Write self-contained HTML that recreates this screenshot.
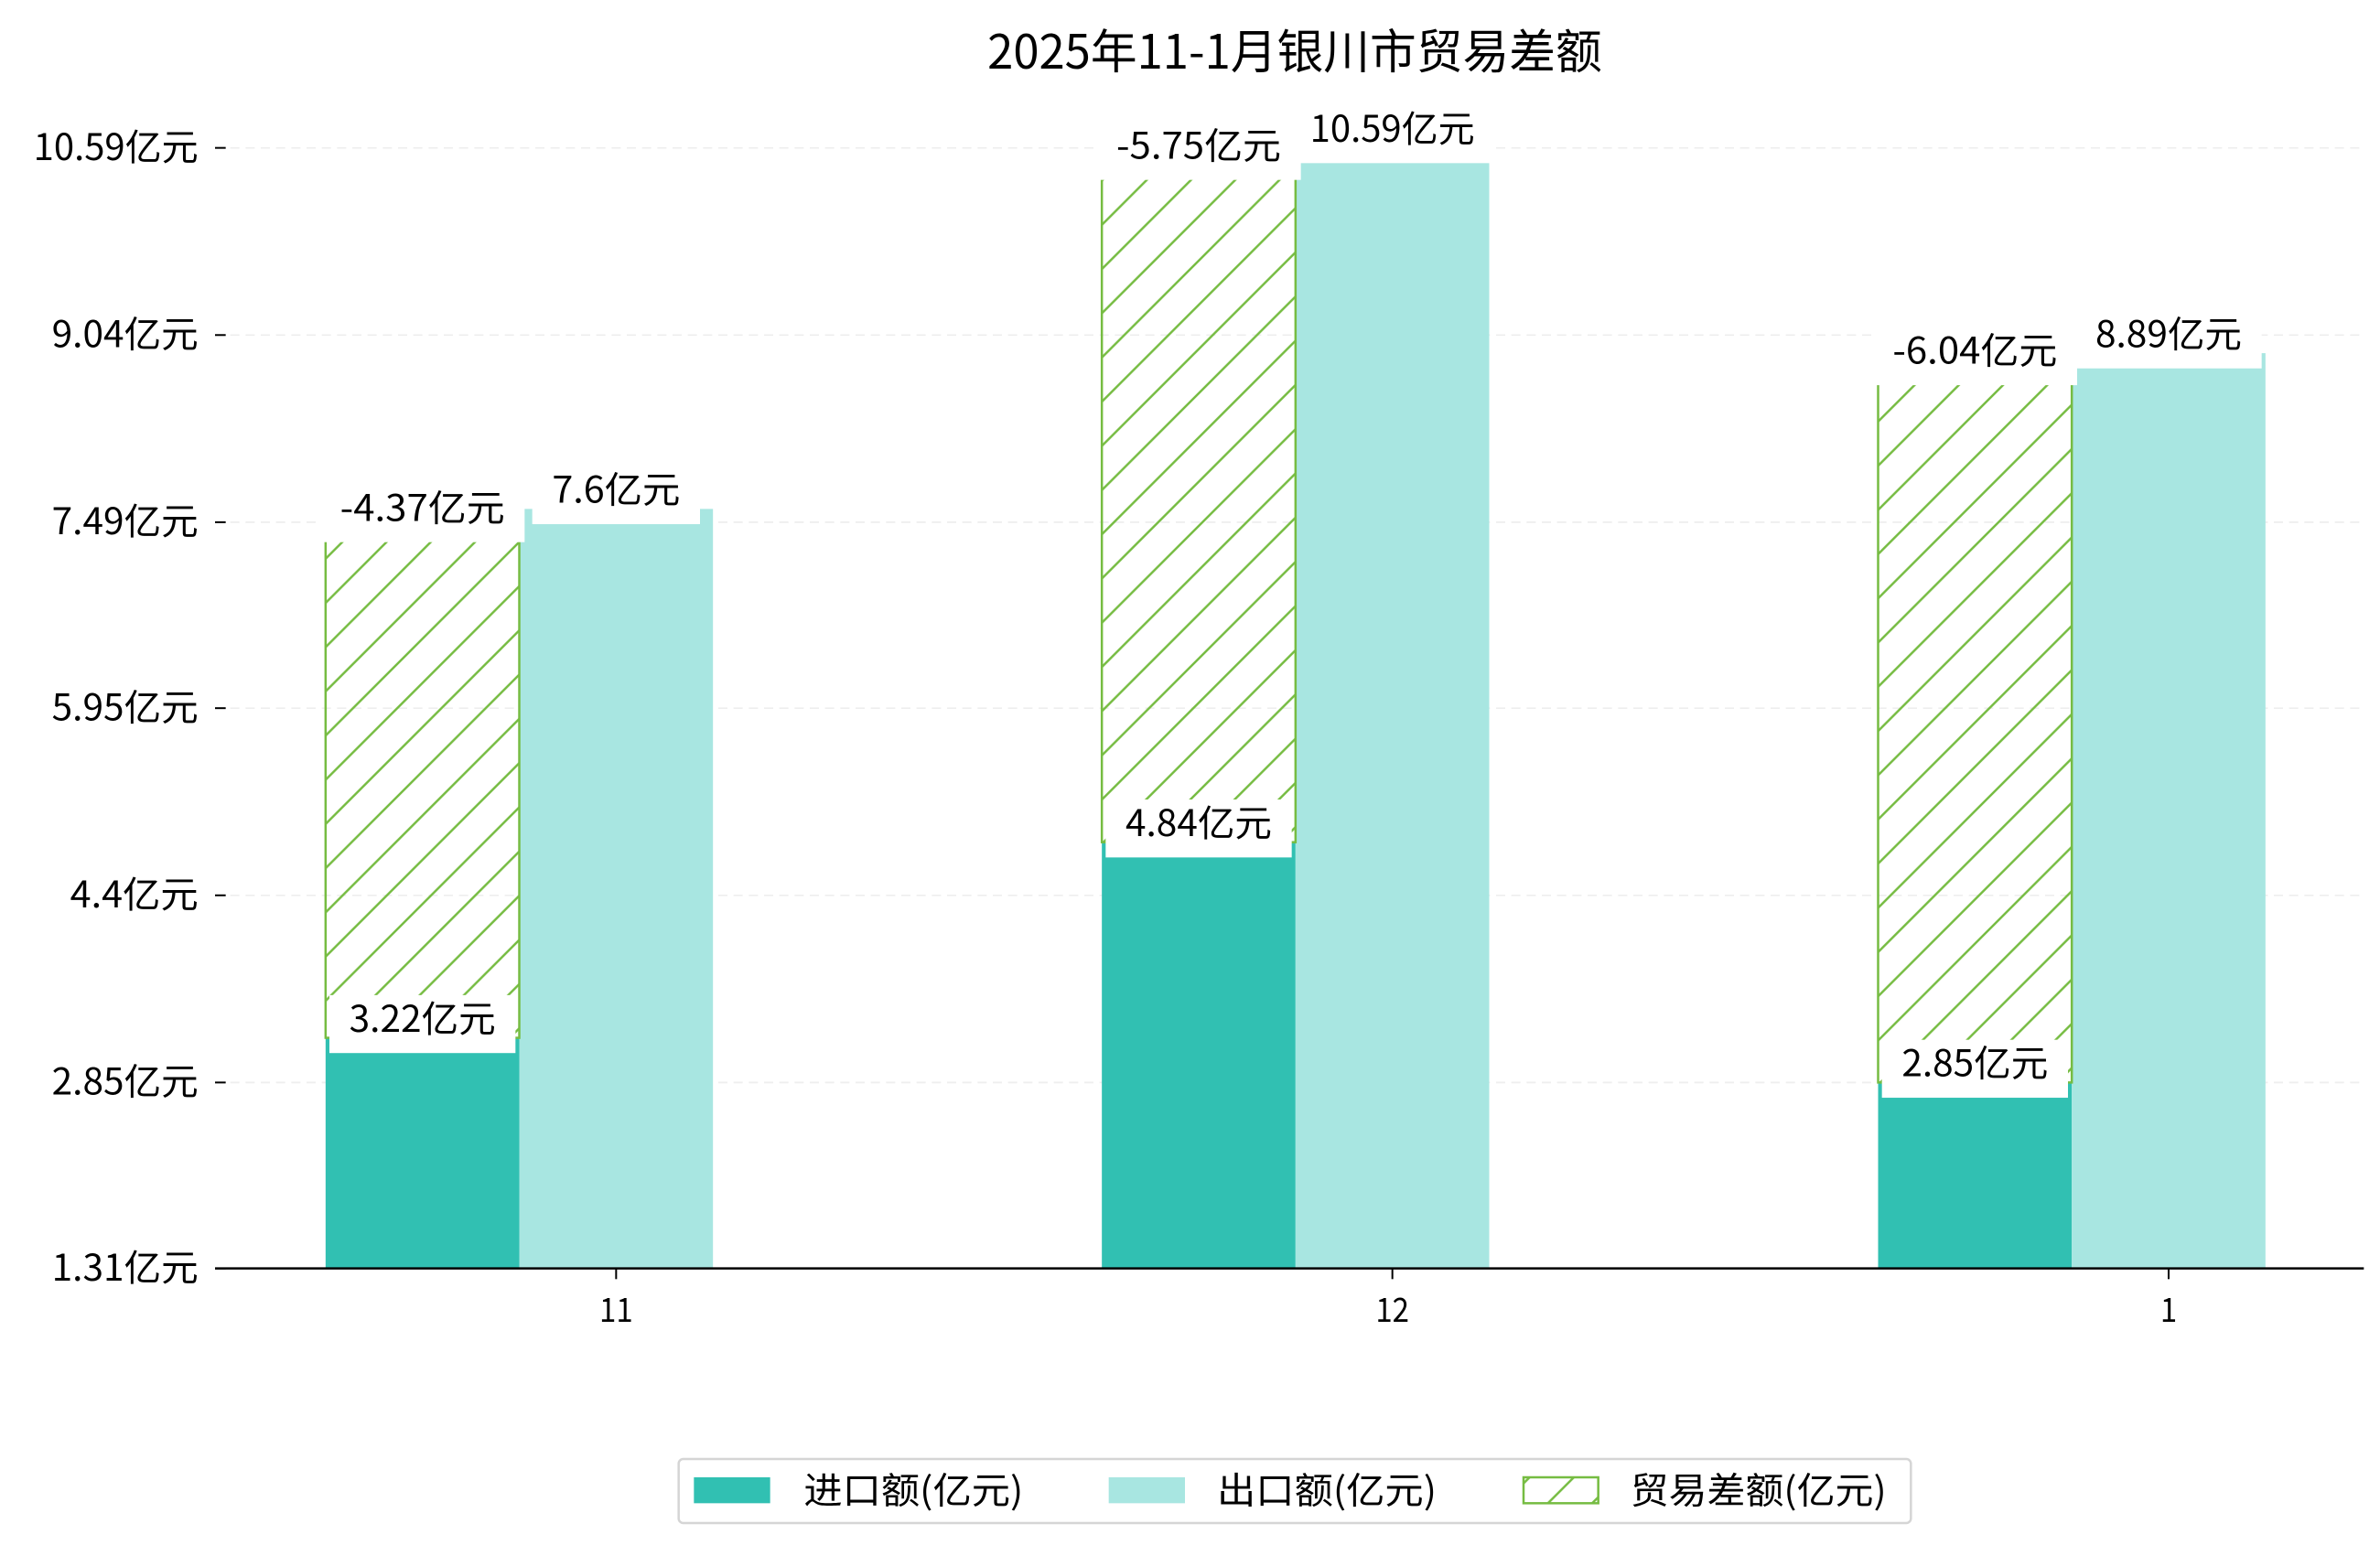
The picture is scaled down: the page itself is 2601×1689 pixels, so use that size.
<!DOCTYPE html>
<html><head><meta charset="utf-8"><style>
html,body{margin:0;padding:0;background:#fff;}
svg{display:block;}
text{font-family:"WenQuanYi Zen Hei","Noto Sans CJK SC",sans-serif;fill:#000;}
</style></head><body>
<svg id="chart" width="2601" height="1689" viewBox="0 0 1560.6 1013.4" xmlns="http://www.w3.org/2000/svg">
<defs>
<pattern id="hatch" patternUnits="userSpaceOnUse" width="29" height="29">
<path d="M0,29 L29,0 M-5,5 L5,-5 M24,34 L34,24" stroke="#76BC42" stroke-width="1.5"/>
</pattern>
</defs>
<g id="title"></g>
<g id="grid"></g>
<g id="bars"></g>
<g id="labels"></g>
<g id="axes"></g>
<g id="legend">
<rect x="445" y="957" width="808" height="42" rx="3" fill="#fff" stroke="#d5d5d5" stroke-width="1.5"/>
<rect x="455" y="969" width="50" height="17" fill="#31C0B2"/>
<rect x="727" y="969" width="50" height="17" fill="#A8E6E1"/>
<rect x="999" y="969" width="49" height="17" fill="url(#hatch)" stroke="#76BC42" stroke-width="1.5"/>
</g>
</svg>
<script>
const months = ["11", "12", "1"];
const imports = [3.22, 4.84, 2.85];
const exports_ = [7.6, 10.59, 8.89];
const diffs = [-4.37, -5.75, -6.04];
const yTicks = ["1.31", "2.85", "4.4", "5.95", "7.49", "9.04", "10.59"];

const NS = "http://www.w3.org/2000/svg";
const yMin = 1.31, yMax = 10.59;
const plotL = 141, plotR = 1550, plotB = 832, plotT = 97;
function y(v){ return plotB - (v - yMin) / (yMax - yMin) * (plotB - plotT); }
function xc(i){ return 404 + i * 509; }
const bw = 127;
function el(tag, attrs, parent){ const e = document.createElementNS(NS, tag); for (const k in attrs) e.setAttribute(k, attrs[k]); parent.appendChild(e); return e; }
function tw(s, fs){ let w = 0; for (const ch of s) w += ch.charCodeAt(0) < 256 ? 0.5 : 1; return w * fs; }
function txt(s, x, yb, fs, anchor, parent){
  const t = el("text", {x: x, y: yb, "font-size": fs, "text-anchor": anchor, textLength: tw(s, fs).toFixed(1), lengthAdjust: "spacingAndGlyphs"}, parent);
  t.textContent = s;
  return t;
}
const grid = document.getElementById("grid"), bars = document.getElementById("bars"), labels = document.getElementById("labels"), axes = document.getElementById("axes");

const title = txt("2025年11-1月银川市贸易差额", 849, 45, 31, "middle", document.getElementById("title"));



const lg = document.getElementById("legend");
const l1 = txt("进口额(亿元)", 527, 986, 24, "start", lg);


const l2 = txt("出口额(亿元)", 798, 986, 24, "start", lg);


const l3 = txt("贸易差额(亿元)", 1069, 986, 24, "start", lg);



yTicks.forEach((t, i) => {
  const v = parseFloat(t), yy = y(v);
  if (i > 0) {
    const g = el("line", {x1: plotL, x2: plotR, y1: yy, y2: yy, stroke: "#eeeeee", "stroke-width": 1, "stroke-dasharray": "6,4"}, grid);
    
    
  }
  const tk = el("line", {x1: plotL, x2: plotL + 7, y1: yy, y2: yy, stroke: "#000", "stroke-width": 1.2}, axes);
  
  
  const tl = txt(t + "亿元", 130, yy + 8, 24, "end", axes);
  
  
});
const ax = el("line", {x1: plotL, x2: plotR, y1: plotB, y2: plotB, stroke: "#000", "stroke-width": 1.5}, axes);



function label(s, cx, cy, name){
  const w = tw(s, 24) + 26;
  const r = el("rect", {x: cx - w/2, y: cy - 16, width: w, height: 38, fill: "#fff"}, labels);
  
  
  const t = txt(s, cx, cy + 8, 24, "middle", labels);
  
  
}

months.forEach((m, i) => {
  const c = xc(i);
  const xi = c - 1.5 * bw, xe = c - 0.5 * bw;
  const bi = el("rect", {x: xi, y: y(imports[i]), width: bw, height: plotB - y(imports[i]), fill: "#31C0B2"}, bars);
  
  
  const be = el("rect", {x: xe, y: y(exports_[i]), width: bw, height: plotB - y(exports_[i]), fill: "#A8E6E1"}, bars);
  
  
  const top = imports[i] + Math.abs(diffs[i]);
  const bd = el("rect", {x: xi, y: y(top), width: bw, height: y(imports[i]) - y(top), fill: "url(#hatch)", stroke: "#76BC42", "stroke-width": 1.5}, bars);
  
  

  label(imports[i] + "亿元", xi + bw/2, y(imports[i]) - 12, 'import-value-label');
  label(exports_[i] + "亿元", xe + bw/2, y(exports_[i]) - 12, 'export-value-label');
  label(diffs[i] + "亿元", xi + bw/2, y(top) - 1, 'diff-value-label');

  const tk = el("line", {x1: c, x2: c, y1: plotB, y2: plotB + 7, stroke: "#000", "stroke-width": 1.2}, axes);
  
  
  const tl = txt(m, c, 867, 22, "middle", axes);
  
  
});
</script>
</body></html>
